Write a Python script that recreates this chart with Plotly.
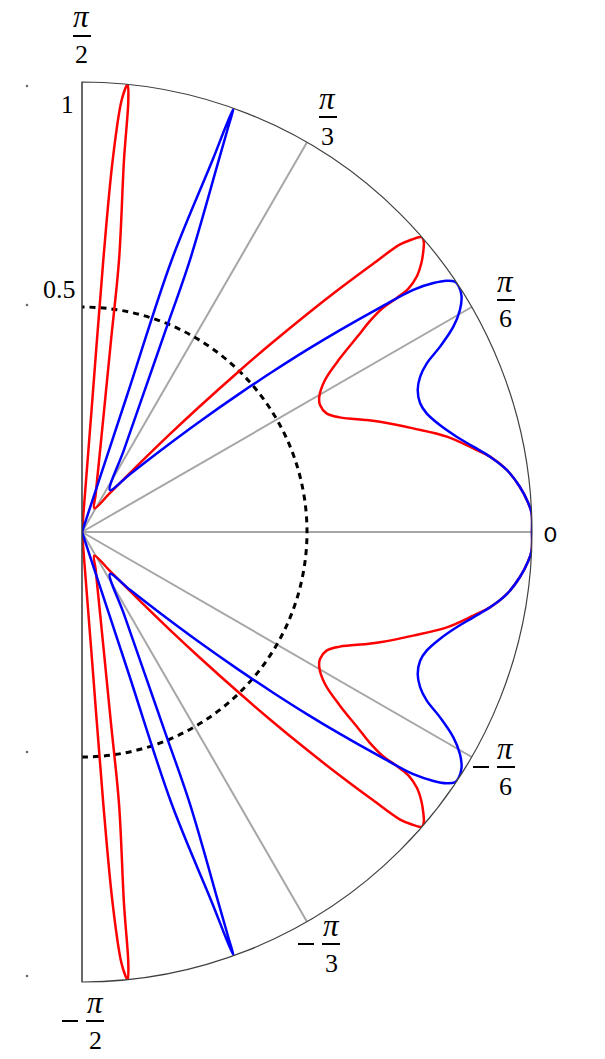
import plotly.graph_objects as go

# ---- data (upper half, theta in degrees, listed along the curve;
#      the pattern is mirror-symmetric about 0) ----
theta_red = [0, 2.38, 3.68, 5.90, 8.31, 10.46, 12.07, 14.65, 17.38, 20.31, 21.47, 23.97, 25.88,
             28.08, 29.69, 32.03, 33.95, 35.38, 36.23, 36.69, 36.63, 36.70, 37.39, 38.48, 39.55,
             40.30, 40.92, 41.17, 41.55, 42.11, 42.66, 43.36, 44.08, 44.91, 45.66, 46.85, 48.05,
             49.91, 54.32, 62.57, 69.79, 73.6, 77.55, 80.07, 81.4, 82.25, 83.56, 83.88, 84.18,
             84.75, 85.28, 85.52, 85.52, 85.52, 90]
r_red = [1.0, 1.0, 0.994, 0.978, 0.954, 0.922, 0.889, 0.838, 0.771, 0.706, 0.680, 0.627, 0.604,
         0.5995, 0.607, 0.637, 0.691, 0.752, 0.793, 0.835, 0.871, 0.904, 0.937, 0.964, 0.984,
         0.996, 1.0, 0.995, 0.980, 0.953, 0.880, 0.789, 0.695, 0.590, 0.502, 0.383, 0.293,
         0.200, 0.107, 0.0593, 0.0876, 0.118, 0.187, 0.298, 0.4315, 0.610, 0.832, 0.9655, 1.0,
         0.964, 0.829, 0.606, 0.294, 0.0, 0.0]

theta_blue = [0, 2.38, 3.68, 5.90, 8.31, 10.46, 12.30, 14.27, 16.64, 19.0, 20.84, 22.93, 24.67,
              26.07, 27.37, 28.94, 30.43, 31.86, 33.25, 33.88, 34.57, 35.31, 36.17, 36.99, 38.05,
              39.0, 40.05, 41.28, 43.17, 46.11, 50.34, 56.31, 62.94, 65.81, 67.49, 68.35, 69.81,
              70.15, 70.31, 70.48, 70.66, 71.75, 71.75, 71.75, 90]
r_blue = [1.0, 1.0, 0.994, 0.978, 0.954, 0.922, 0.890, 0.859, 0.830, 0.810, 0.804, 0.810, 0.827,
          0.853, 0.896, 0.943, 0.974, 0.993, 1.0, 0.998, 0.984, 0.957, 0.912, 0.829, 0.728,
          0.643, 0.555, 0.467, 0.360, 0.250, 0.167, 0.112, 0.205, 0.322, 0.486, 0.650, 0.881,
          0.958, 1.0, 0.956, 0.876, 0.636, 0.32, 0.0, 0.0]

angle_ticks = [-90, -60, -30, 0, 30, 60, 90]
radial_ticks = [0.5]


def mirror(th, r):
    return ([-v for v in reversed(th)] + th[1:], list(reversed(r)) + r[1:])


W, H = 605, 1059
fig = go.Figure()

tr, rr = mirror(theta_red, r_red)
fig.add_trace(go.Scatterpolar(theta=tr, r=rr, mode="lines",
                              line=dict(color="#ff0000", width=2.5, shape="spline", smoothing=1.0),
                              hoverinfo="skip"))
tb, rb = mirror(theta_blue, r_blue)
fig.add_trace(go.Scatterpolar(theta=tb, r=rb, mode="lines",
                              line=dict(color="#0000ff", width=2.5, shape="spline", smoothing=1.0),
                              hoverinfo="skip"))

fig.update_layout(
    width=W, height=H, margin=dict(l=0, r=0, t=0, b=0),
    paper_bgcolor="white", showlegend=False,
    polar=dict(
        domain=dict(x=[82 / W, 532 / W], y=[1 - 982 / H, 1 - 82 / H]),
        sector=[-90, 90], bgcolor="white",
        radialaxis=dict(range=[0, 1], showline=False, showticklabels=False, ticks="",
                        tickvals=radial_ticks, showgrid=True, gridcolor="black", gridwidth=2.5,
                        griddash="6px,5px"),
        angularaxis=dict(rotation=0, direction="counterclockwise", thetaunit="degrees",
                         tickvals=angle_ticks, showticklabels=False, ticks="",
                         showgrid=True, gridcolor="#a6a6a6", gridwidth=2,
                         showline=True, linecolor="#404040", linewidth=1.2),
    ),
)


def px(x, y):
    return x / W, 1 - y / H


def text(t, x, y, size=25, family="Liberation Serif"):
    xx, yy = px(x, y)
    fig.add_annotation(x=xx, y=yy, xref="paper", yref="paper", text=t, showarrow=False,
                       font=dict(size=size, family=family, color="black"),
                       xanchor="center", yanchor="middle")


def bar(cx, y, half=9):
    x0, y0 = px(cx - half, y)
    x1, _ = px(cx + half, y)
    fig.add_shape(type="line", xref="paper", yref="paper", x0=x0, x1=x1, y0=y0, y1=y0,
                  line=dict(color="black", width=2))


def frac(cx, ybar, den, neg=False):
    text("<i>π</i>", cx, ybar - 19, size=31)
    bar(cx, ybar)
    text(den, cx, ybar + 19, size=26)
    if neg:
        bar(cx - 25, ybar, half=8)


frac(82, 36, "2")
frac(328, 117, "3")
frac(506, 300, "6")
frac(506, 767, "6", neg=True)
frac(331, 944, "3", neg=True)
frac(95, 1021, "2", neg=True)
text("0", 550, 533, size=22, family="Lato")
text("1", 67, 105, size=25)
text("0.5", 59, 289, size=26)

for yy in [86, 305, 752, 976]:
    cx, cy = px(27, yy)
    fig.add_shape(type="circle", xref="paper", yref="paper",
                  x0=cx - 1 / W, x1=cx + 1 / W, y0=cy - 1 / H, y1=cy + 1 / H,
                  line=dict(color="#555", width=0.5), fillcolor="#555")

fig.write_html("out.html", config={"displayModeBar": False},
               post_script="document.body.style.margin='0';document.body.style.overflow='hidden';")
